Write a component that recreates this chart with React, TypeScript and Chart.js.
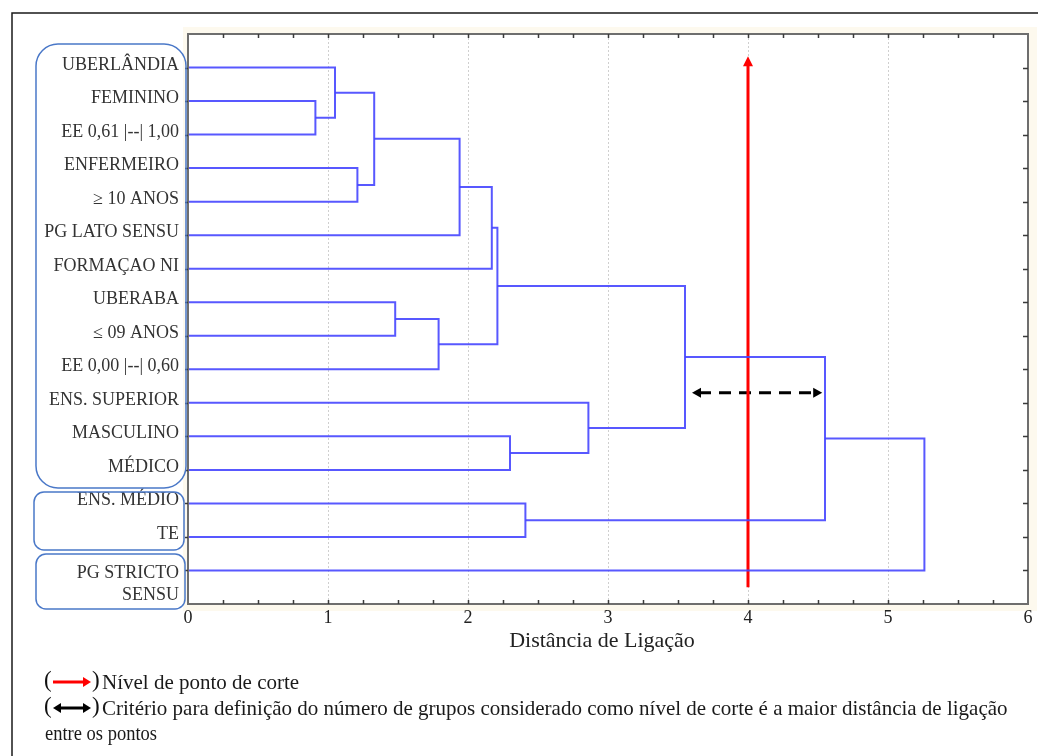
import { useEffect, useRef } from "react";
import { Chart, registerables } from "chart.js";

Chart.register(...registerables);

// ---------- data ----------
const leafLabels = [
  "UBERLÂNDIA",
  "FEMININO",
  "EE 0,61 |--| 1,00",
  "ENFERMEIRO",
  "≥ 10 ANOS",
  "PG LATO SENSU",
  "FORMAÇAO NI",
  "UBERABA",
  "≤ 09 ANOS",
  "EE 0,00 |--| 0,60",
  "ENS. SUPERIOR",
  "MASCULINO",
  "MÉDICO",
  "ENS. MÉDIO",
  "TE",
  "PG STRICTO SENSU",
];
// merge k joins node mergeA[k] with node mergeB[k] (leaves 0..15, merge k -> node 16+k)
const mergeA = [1, 0, 3, 17, 19, 20, 7, 22, 21, 11, 10, 24, 13, 27, 29];
const mergeB = [2, 16, 4, 18, 5, 6, 8, 9, 23, 12, 25, 26, 14, 28, 15];
const mergeHeight = [0.91, 1.05, 1.21, 1.33, 1.94, 2.17, 1.48, 1.79, 2.21, 2.3, 2.86, 3.55, 2.41, 4.55, 5.26];
const xTickValues = [0, 1, 2, 3, 4, 5, 6];
const cutLevel = 4;
const cutFromY = 16.5;
const cutToY = 0.66;
const gapArrowFrom = 3.6;
const gapArrowTo = 4.53;
const gapArrowY = 10.7;

const axisTitle = "Distância de Ligação";
const legendLine1 = "Nível de ponto de corte";
const legendLine2 =
  "Critério para definição do número de grupos considerado como nível de corte é a maior distância de ligação";
const legendLine3 = "entre os pontos";

const FONT = "'Liberation Serif', 'Times New Roman', serif";
const LINK_COLOR = "rgba(70,70,255,0.9)";

function buildLinks() {
  const pos: number[] = leafLabels.map((_, i) => i + 1);
  const hgt: number[] = leafLabels.map(() => 0);
  const links = mergeA.map((a, k) => {
    const b = mergeB[k];
    const h = mergeHeight[k];
    const d = [
      { x: hgt[a], y: pos[a] },
      { x: h, y: pos[a] },
      { x: h, y: pos[b] },
      { x: hgt[b], y: pos[b] },
    ];
    pos.push((pos[a] + pos[b]) / 2);
    hgt.push(h);
    return d;
  });
  return links;
}

function arrowHead(ctx: CanvasRenderingContext2D, x: number, y: number, dir: "up" | "left" | "right", len: number, half: number) {
  ctx.beginPath();
  if (dir === "up") {
    ctx.moveTo(x, y);
    ctx.lineTo(x - half, y + len);
    ctx.lineTo(x + half, y + len);
  } else if (dir === "left") {
    ctx.moveTo(x, y);
    ctx.lineTo(x + len, y - half);
    ctx.lineTo(x + len, y + half);
  } else {
    ctx.moveTo(x, y);
    ctx.lineTo(x - len, y - half);
    ctx.lineTo(x - len, y + half);
  }
  ctx.closePath();
  ctx.fill();
}

const decor = {
  id: "decor",
  beforeDraw(chart: any) {
    const { ctx, chartArea: a } = chart;
    ctx.save();
    ctx.fillStyle = "#ffffff";
    ctx.fillRect(0, 0, chart.width, chart.height);
    ctx.fillStyle = "#fdf9ee";
    ctx.fillRect(183, 27, 854, 584);
    ctx.fillStyle = "#ffffff";
    ctx.fillRect(a.left, a.top, a.right - a.left, a.bottom - a.top);
    ctx.strokeStyle = "#1a1a1a";
    ctx.lineWidth = 1.5;
    ctx.beginPath();
    ctx.moveTo(12, 756);
    ctx.lineTo(12, 13);
    ctx.lineTo(1038, 13);
    ctx.stroke();
    ctx.restore();
  },
  afterDraw(chart: any) {
    const { ctx, chartArea: a } = chart;
    const xs = chart.scales.x;
    const ys = chart.scales.y;
    ctx.save();

    // frame
    ctx.strokeStyle = "#6e6e6e";
    ctx.lineWidth = 2;
    ctx.strokeRect(a.left, a.top, a.right - a.left, a.bottom - a.top);

    // x ticks (inward, top and bottom)
    ctx.strokeStyle = "#3a3a3a";
    ctx.lineWidth = 1.5;
    for (let v = 0.25; v < 6; v += 0.25) {
      const px = Math.round(xs.getPixelForValue(v)) + 0.5;
      ctx.beginPath();
      ctx.moveTo(px, a.top);
      ctx.lineTo(px, a.top + 4);
      ctx.moveTo(px, a.bottom);
      ctx.lineTo(px, a.bottom - 4);
      ctx.stroke();
    }
    // y ticks at leaves
    for (let i = 1; i <= leafLabels.length; i++) {
      const py = Math.round(ys.getPixelForValue(i)) + 0.5;
      ctx.beginPath();
      ctx.moveTo(a.right, py);
      ctx.lineTo(a.right - 5, py);
      ctx.moveTo(a.left - 3, py);
      ctx.lineTo(a.left, py);
      ctx.stroke();
    }

    // leaf labels
    ctx.fillStyle = "#333333";
    ctx.font = `18px ${FONT}`;
    ctx.textAlign = "right";
    ctx.textBaseline = "alphabetic";
    leafLabels.forEach((lab, i) => {
      const py = ys.getPixelForValue(i + 1);
      if (i === leafLabels.length - 1) {
        const parts = lab.split(" ");
        ctx.fillText(parts.slice(0, 2).join(" "), 179, py + 8);
        ctx.fillText(parts.slice(2).join(" "), 179, py + 30);
      } else {
        ctx.fillText(lab, 179, py + 2);
      }
    });

    // group boxes
    ctx.strokeStyle = "#4a78c8";
    ctx.lineWidth = 1.5;
    const boxes = [
      [36, 44, 150, 444, 22],
      [34, 492, 150, 58, 10],
      [36, 554, 149, 55, 10],
    ];
    boxes.forEach(([x, y, w, h, r]) => {
      ctx.beginPath();
      (ctx as any).roundRect(x, y, w, h, r);
      ctx.stroke();
    });

    // cut arrowhead
    ctx.fillStyle = "#ff0000";
    arrowHead(ctx, xs.getPixelForValue(cutLevel), ys.getPixelForValue(cutToY), "up", 10, 5);

    // gap arrowheads
    ctx.fillStyle = "#000000";
    const gy = ys.getPixelForValue(gapArrowY);
    arrowHead(ctx, xs.getPixelForValue(gapArrowFrom), gy, "left", 9, 5);
    arrowHead(ctx, xs.getPixelForValue(gapArrowTo), gy, "right", 9, 5);

    // axis title
    ctx.fillStyle = "#222222";
    ctx.font = `22px ${FONT}`;
    ctx.textAlign = "center";
    ctx.textBaseline = "middle";
    ctx.fillText(axisTitle, 602, 641, 202);

    // legend
    ctx.textAlign = "left";
    ctx.textBaseline = "middle";
    ctx.fillStyle = "#111111";
    ctx.font = `23px ${FONT}`;
    ctx.fillText("(", 44, 681);
    ctx.fillText(")", 92, 681);
    ctx.fillText("(", 44, 707);
    ctx.fillText(")", 92, 707);
    // red legend arrow
    ctx.strokeStyle = "#ff0000";
    ctx.fillStyle = "#ff0000";
    ctx.lineWidth = 3;
    ctx.beginPath();
    ctx.moveTo(53, 682);
    ctx.lineTo(84, 682);
    ctx.stroke();
    arrowHead(ctx, 91, 682, "right", 8, 5);
    // black double arrow
    ctx.strokeStyle = "#000000";
    ctx.fillStyle = "#000000";
    ctx.beginPath();
    ctx.moveTo(60, 708);
    ctx.lineTo(84, 708);
    ctx.stroke();
    arrowHead(ctx, 53, 708, "left", 8, 5);
    arrowHead(ctx, 91, 708, "right", 8, 5);

    ctx.fillStyle = "#1a1a1a";
    ctx.font = `21px ${FONT}`;
    ctx.fillText(legendLine1, 102, 683, 202);
    ctx.fillText(legendLine2, 102, 709, 908);
    ctx.fillText(legendLine3, 45, 734, 112);

    ctx.restore();
  },
};

export default function App() {
  const ref = useRef<HTMLCanvasElement | null>(null);

  useEffect(() => {
    const canvas = ref.current;
    if (!canvas) return;
    const links = buildLinks();
    const datasets: any[] = links.map((d) => ({
      data: d,
      showLine: true,
      borderColor: LINK_COLOR,
      backgroundColor: LINK_COLOR,
      borderWidth: 2,
      pointRadius: 0,
      fill: false,
      tension: 0,
    }));
    datasets.push({
      data: [
        { x: cutLevel, y: cutFromY },
        { x: cutLevel, y: cutToY + 0.25 },
      ],
      showLine: true,
      borderColor: "#ff0000",
      borderWidth: 3,
      pointRadius: 0,
      fill: false,
    });
    datasets.push({
      data: [
        { x: gapArrowFrom + 0.05, y: gapArrowY },
        { x: gapArrowTo - 0.05, y: gapArrowY },
      ],
      showLine: true,
      borderColor: "#000000",
      borderWidth: 3,
      borderDash: [12, 8],
      pointRadius: 0,
      fill: false,
    });

    const chart = new Chart(canvas, {
      type: "scatter",
      data: { datasets },
      plugins: [decor],
      options: {
        animation: false,
        responsive: false,
        events: [],
        layout: { padding: { top: 34, right: 10, left: 0, bottom: 0 } },
        plugins: {
          legend: { display: false },
          tooltip: { enabled: false },
        },
        scales: {
          x: {
            type: "linear",
            position: "bottom",
            min: 0,
            max: 6,
            afterBuildTicks: (scale: any) => {
              scale.ticks = xTickValues.map((v) => ({ value: v }));
            },
            afterFit: (scale: any) => {
              scale.height = 152;
            },
            ticks: {
              font: { family: FONT, size: 18 },
              color: "#222222",
              padding: 3,
              maxRotation: 0,
              callback: (v: any) => String(v),
            },
            grid: {
              display: true,
              drawTicks: false,
              color: "#cfcfcf",
              lineWidth: 1,
            },
            border: { display: false, dash: [2, 2] },
          },
          y: {
            type: "linear",
            min: 0,
            max: 17,
            reverse: true,
            afterFit: (scale: any) => {
              scale.width = 188;
            },
            ticks: { display: false },
            grid: { display: false },
            border: { display: false },
          },
        },
      } as any,
    });
    return () => chart.destroy();
  }, []);

  return (
    <div style={{ position: "absolute", left: 0, top: 0, width: 1038, height: 756 }}>
      <canvas ref={ref} width={1038} height={756} style={{ display: "block", width: 1038, height: 756 }} />
    </div>
  );
}
